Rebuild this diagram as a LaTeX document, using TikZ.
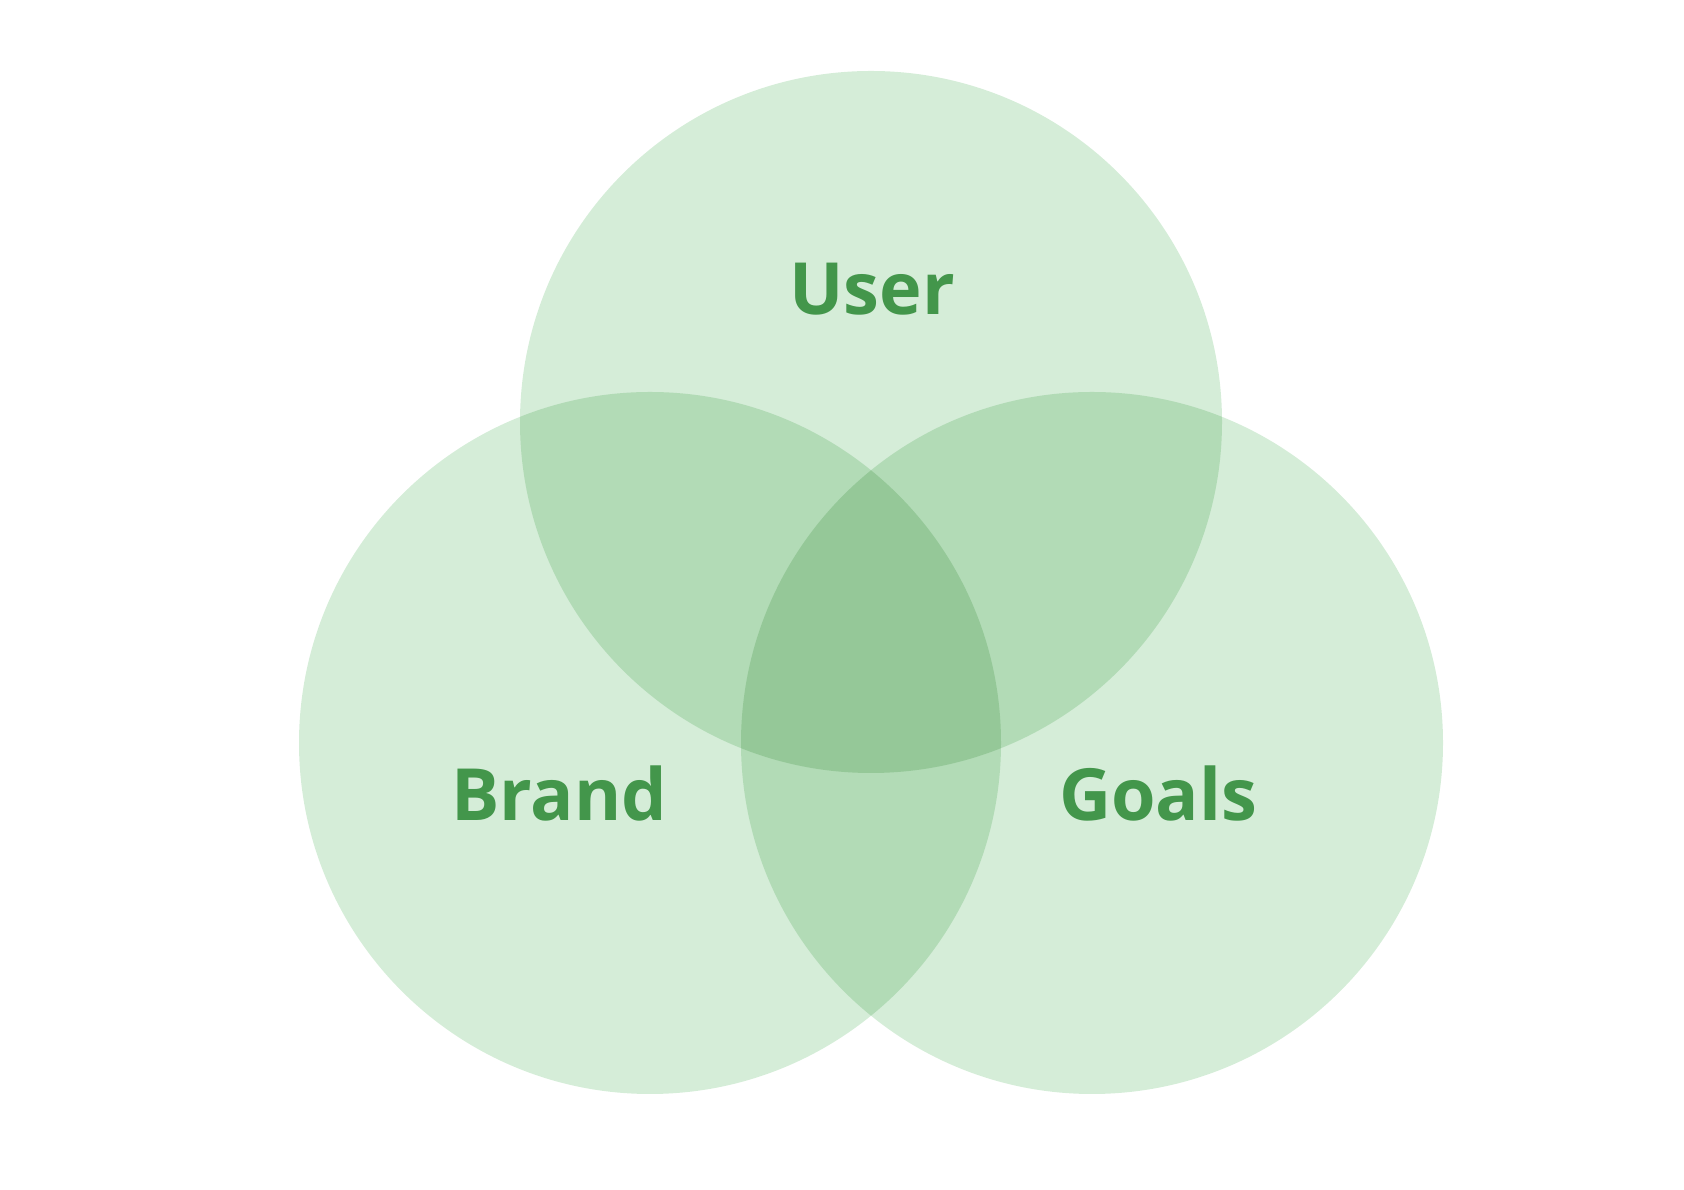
\documentclass[tikz,border=0pt]{standalone}
\usepackage{fontspec}
\setmainfont{Open Sans}
\definecolor{cone}{HTML}{D5EDD8}
\definecolor{ctwo}{HTML}{B2DBB6}
\definecolor{cthree}{HTML}{95C898}
\definecolor{ctext}{HTML}{43964B}
\begin{document}
\begin{tikzpicture}[x=1pt,y=1pt,
  lbl/.style={text=ctext,font=\bfseries\fontsize{72}{78}\selectfont,anchor=base,inner sep=0pt}]
\useasboundingbox (0,0) rectangle (1684,1190);
\def\rr{351}
\coordinate (cu) at (871,768);
\coordinate (cb) at (650,447);
\coordinate (cg) at (1092,447);
\fill[cone] (cu) circle (\rr);
\fill[cone] (cb) circle (\rr);
\fill[cone] (cg) circle (\rr);
\begin{scope}\clip (cu) circle (\rr); \fill[ctwo] (cb) circle (\rr); \fill[ctwo] (cg) circle (\rr);\end{scope}
\begin{scope}\clip (cb) circle (\rr); \fill[ctwo] (cg) circle (\rr);\end{scope}
\begin{scope}\clip (cu) circle (\rr); \clip (cb) circle (\rr); \fill[cthree] (cg) circle (\rr);\end{scope}
\node[lbl] (user) at (872,875) {User};
\node[lbl] (brand) at (559,369) {Brand};
\node[lbl] (goals) at (1158,369) {Goals};
\end{tikzpicture}
\end{document}
